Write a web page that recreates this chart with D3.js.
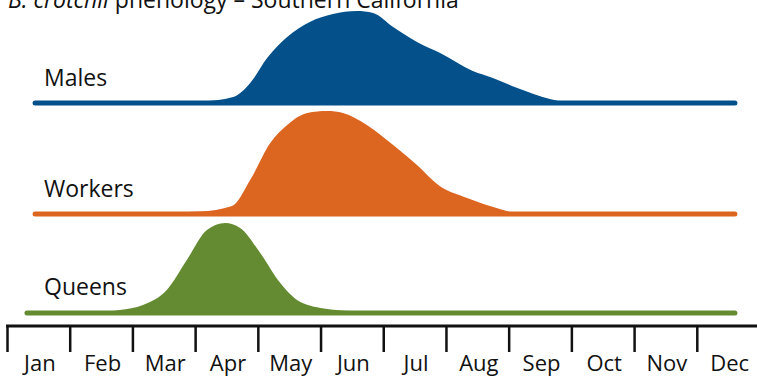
<!DOCTYPE html>
<html><head><meta charset="utf-8">
<script src="https://cdn.jsdelivr.net/npm/d3@7"></script>
<style>
html,body{margin:0;padding:0;background:#fff;}
svg{display:block;}
text{font-family:"Open Sans",sans-serif;fill:#111;}
</style></head>
<body>
<svg id="chart" width="757" height="376"></svg>
<script>
const months = ["Jan","Feb","Mar","Apr","May","Jun","Jul","Aug","Sep","Oct","Nov","Dec"];
const seriesNames = ["Males","Workers","Queens"];
const seriesColors = ["#03508b","#dc6520","#648b31"];

// month position (0 = start of Jan, 12 = end of Dec) and relative activity
const malesMonth =  [0.44,2.27,3.07,3.60,3.87,4.14,4.46,4.82,5.19,5.57,5.83,6.15,6.53,6.90,7.42,7.74,8.13,8.65,8.85,9.0,11.6];
const malesValue =  [0,   0.5, 1.5, 6,   20,  45,  66,  81,  89,  92,  90,  76,  61,  50,  32,  25,  15,  4,   1.2, 0,  0];
const workersMonth = [0.44,2.27,3.07,3.58,3.87,4.19,4.46,4.78,5.10,5.35,5.73,6.15,6.53,6.87,7.33,7.85,8.05,8.25,11.6];
const workersValue = [0,   1,   2.5, 8,   34,  71,  89,  101, 103, 101, 89,  69,  49,  29,  16,  5,   1.5, 0,   0];
const queensMonth =  [0.31,1.48,1.79,2.16,2.54,2.86,3.18,3.47,3.71,4.03,4.35,4.67,5.10,5.47,6.2,11.6];
const queensValue =  [0,   1,   3,   8,   23,  53,  83,  90,  85,  60,  30,  11,  4,   2,   0,  0];

const svg = d3.select("#chart");
const x = d3.scaleLinear().domain([0,12]).range([7.5,760]);
const h = d3.scaleLinear().domain([0,100]).range([0,100]);
const baseY = {Males:103, Workers:214, Queens:313};

const series = [
  {name:"Males", m:malesMonth, v:malesValue},
  {name:"Workers", m:workersMonth, v:workersValue},
  {name:"Queens", m:queensMonth, v:queensValue}
];

series.forEach((s,i)=>{
  const by = baseY[s.name];
  const pts = s.m.map((m,j)=>({m, v:s.v[j]}));
  const area = d3.area().curve(d3.curveMonotoneX)
    .x(d=>x(d.m)).y0(by).y1(d=>by - h(d.v));
  svg.append("path").datum(pts).attr("d",area).attr("fill",seriesColors[i]);
  svg.append("line").attr("x1",x(s.m[0])).attr("x2",x(s.m[s.m.length-1]))
    .attr("y1",by).attr("y2",by).attr("stroke",seriesColors[i])
    .attr("stroke-width",5).attr("stroke-linecap","round");
  svg.append("text").attr("x",44).attr("y",by - (s.name==="Queens"?18:17))
    .attr("font-size",23).text(s.name);
});

// axis
const axisY = 326;
svg.append("line").attr("x1",x(0)-1.5).attr("x2",757).attr("y1",axisY).attr("y2",axisY)
  .attr("stroke","#111").attr("stroke-width",3);
svg.selectAll(".tick").data(d3.range(12)).join("line")
  .attr("x1",d=>x(d)).attr("x2",d=>x(d)).attr("y1",axisY).attr("y2",352)
  .attr("stroke","#111").attr("stroke-width",2.5);
svg.selectAll(".mlab").data(months).join("text")
  .attr("x",(d,i)=>x(i+0.5)+1).attr("y",371).attr("text-anchor","middle")
  .attr("font-size",22).text(d=>d);

// title
const t = svg.append("text").attr("x",8).attr("y",8).attr("font-size",23);
t.append("tspan").attr("font-style","italic").text("B. crotchii");
t.append("tspan").text(" phenology – Southern California");
</script>
</body></html>
